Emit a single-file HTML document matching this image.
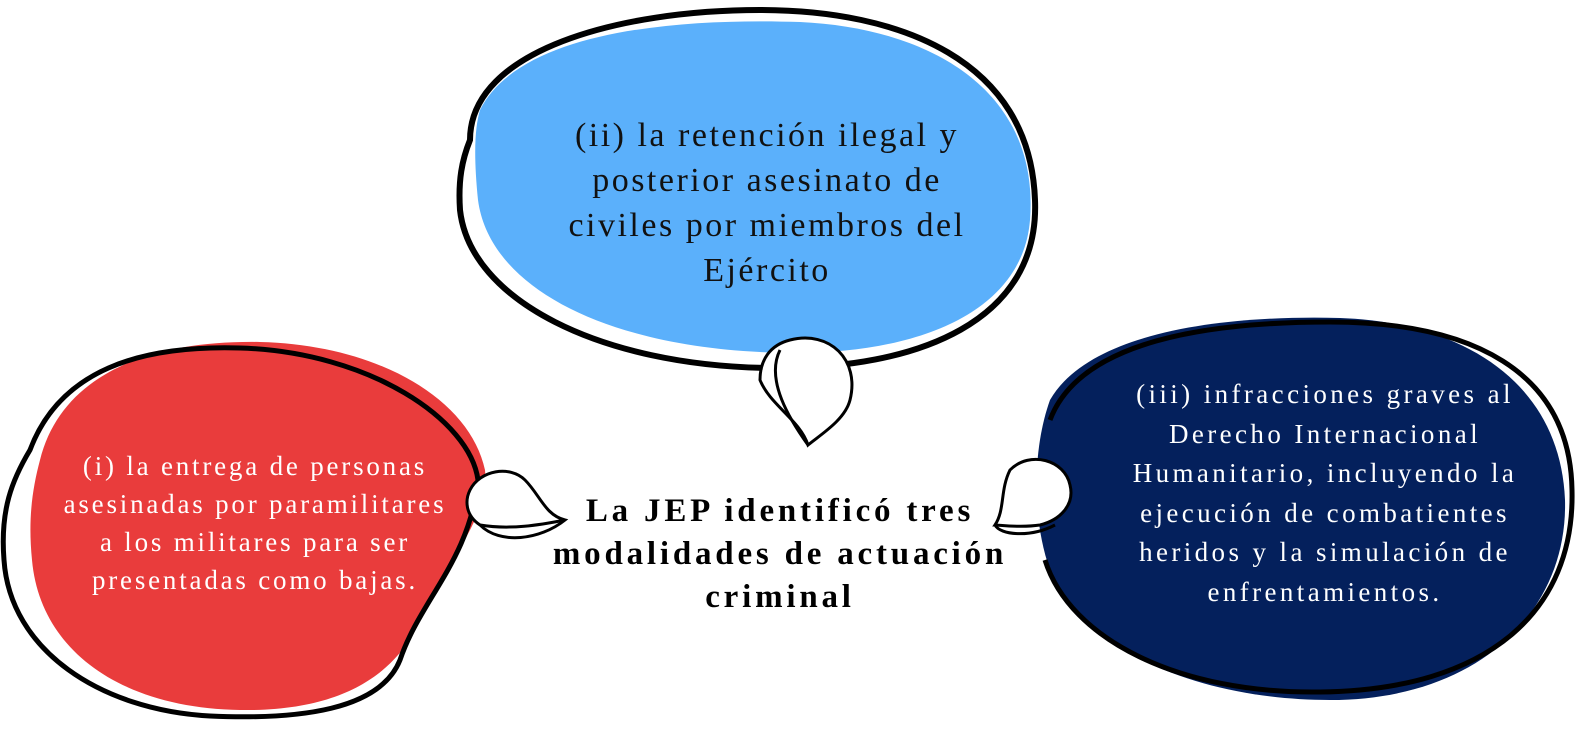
<!DOCTYPE html>
<html><head><style>
html,body{margin:0;padding:0;background:#fff;width:1592px;height:731px;overflow:hidden}
svg{position:absolute;left:0;top:0}
.t{position:absolute;font-family:"Liberation Serif",serif;text-align:center;white-space:nowrap}
</style></head><body>
<svg width="1592" height="731" viewBox="0 0 1592 731">
<path d="M480,110 C520,30 680,18 800,22 C930,28 1040,90 1030,220 C1022,320 900,360 760,352 C610,345 490,290 478,200 C474,160 474,130 480,110Z" fill="#5bb0fb"/>
<path d="M470,140 C470,50 620,10 760,10 C900,10 1030,60 1035,200 C1040,320 920,370 770,368 C600,366 470,300 460,210 C458,180 462,160 470,140Z" fill="none" stroke="#000" stroke-width="6"/>
<path d="M40,460 C60,380 140,340 260,342 C380,345 470,400 485,470 C490,520 440,570 425,610 C405,660 360,712 240,710 C120,708 40,650 32,560 C28,520 32,490 40,460Z" fill="#e93c3c"/>
<path d="M30,450 C60,370 140,345 240,348 C370,352 470,420 478,480 C470,560 420,600 400,660 C380,710 300,720 210,716 C100,710 10,650 4,560 C0,510 12,480 30,450Z" fill="none" stroke="#000" stroke-width="5"/>
<path d="M1050,400 C1090,330 1230,315 1340,318 C1460,322 1560,380 1565,500 C1568,610 1480,700 1330,700 C1200,700 1080,650 1050,570 C1032,520 1032,450 1050,400Z" fill="#04205c"/>
<path d="M1050,420 C1080,340 1210,322 1330,322 C1470,322 1570,370 1572,490 C1575,610 1490,690 1320,692 C1180,694 1070,640 1045,560" fill="none" stroke="#000" stroke-width="5"/>
<path d="M790,340 C830,330 860,360 850,400 C845,420 820,435 808,445 C800,420 770,405 760,380 C760,360 770,345 790,340Z" fill="#fff" stroke="#000" stroke-width="3"/>
<path d="M780,350 C765,380 790,420 808,445" fill="none" stroke="#000" stroke-width="3"/>
<path d="M470,490 C480,470 510,465 525,480 C540,495 545,515 565,520 C540,540 500,545 480,525 C465,515 465,500 470,490Z" fill="#fff" stroke="#000" stroke-width="3"/>
<path d="M480,525 C510,530 540,525 565,520" fill="none" stroke="#000" stroke-width="3"/>
<path d="M1010,470 C1030,450 1065,460 1070,485 C1075,505 1060,520 1040,525 C1020,528 1000,525 995,525 C1005,510 1000,490 1010,470Z" fill="#fff" stroke="#000" stroke-width="3"/>
<path d="M995,525 C1000,535 1030,538 1055,525" fill="none" stroke="#000" stroke-width="3"/>
</svg>
<div class="t" style="left:467px;top:113px;width:600px;font-size:34px;letter-spacing:2.5px;color:#111;line-height:45px">(ii) la retención ilegal y<br>posterior asesinato de<br>civiles por miembros del<br>Ejército</div>
<div class="t" style="left:5px;top:447px;width:500px;font-size:27px;letter-spacing:2.8px;color:#fff;line-height:38px">(i) la entrega de personas<br>asesinadas por paramilitares<br>a los militares para ser<br>presentadas como bajas.</div>
<div class="t" style="left:1075px;top:375px;width:500px;font-size:27px;letter-spacing:3.4px;color:#fff;line-height:39.5px">(iii) infracciones graves al<br>Derecho Internacional<br>Humanitario, incluyendo la<br>ejecución de combatientes<br>heridos y la simulación de<br>enfrentamientos.</div>
<div class="t" style="left:485px;top:490px;width:590px;font-size:33px;letter-spacing:3.8px;font-weight:bold;color:#000;line-height:43px">La JEP identificó tres<br>modalidades de actuación<br>criminal</div>
</body></html>
